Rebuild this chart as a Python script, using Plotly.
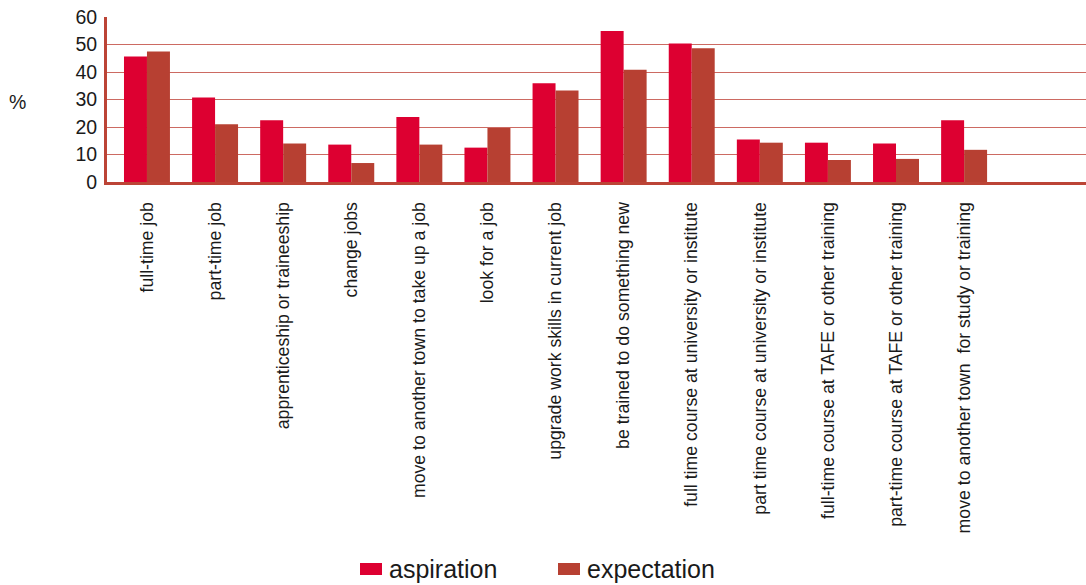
import plotly.graph_objects as go

# Post-school plans: what young people would like to do vs. expect to do (%)
categories = [
    "full-time job",
    "part-time job",
    "apprenticeship or traineeship",
    "change jobs",
    "move to another town to take up a job",
    "look for a job",
    "upgrade work skills in current job",
    "be trained to do something new",
    "full time course at university or institute",
    "part time course at university or institute",
    "full-time course at TAFE or other training",
    "part-time course at TAFE or other training",
    "move to another town \u00a0for study or training",
]
aspiration = [45.6, 30.7, 22.5, 13.6, 23.6, 12.5, 35.9, 54.9, 50.4, 15.5, 14.3, 14.0, 22.5]
expectation = [47.5, 21.0, 14.0, 6.9, 13.6, 19.6, 33.3, 40.8, 48.6, 14.3, 8.0, 8.4, 11.7]
y_ticks = [0, 10, 20, 30, 40, 50, 60]

ASP_COLOR = "#DD0031"
EXP_COLOR = "#B74032"
AXIS_COLOR = "#BC4436"
GRID_COLOR = "#CC6A62"
FONT = "Liberation Sans, Arial, Helvetica, sans-serif"

x_pos = list(range(len(categories)))

fig = go.Figure()
fig.add_trace(go.Bar(x=x_pos, y=aspiration, name="aspiration",
                     marker=dict(color=ASP_COLOR, line=dict(width=0))))
fig.add_trace(go.Bar(x=x_pos, y=expectation, name="expectation",
                     marker=dict(color=EXP_COLOR, line=dict(width=0))))

fig.update_layout(
    width=1086, height=585,
    margin=dict(l=107, r=0, t=17, b=403),
    paper_bgcolor="white", plot_bgcolor="white",
    barmode="group", bargap=0.325, bargroupgap=0,
    showlegend=False,
    font=dict(family=FONT, color="#1a1a1a"),
)

fig.update_xaxes(
    range=[-0.587, 13.79],
    tickmode="array", tickvals=x_pos, ticktext=categories,
    tickangle=-90, tickfont=dict(size=17.7, family=FONT, color="#1a1a1a"),
    ticks="outside", ticklen=10, tickcolor="rgba(0,0,0,0)",
    showline=True, linewidth=3, linecolor=AXIS_COLOR,
    showgrid=False, zeroline=False,
)
fig.update_yaxes(
    range=[0, 60],
    tickmode="array", tickvals=y_ticks,
    tickfont=dict(size=19.5, family=FONT, color="#1a1a1a"),
    ticks="outside", ticklen=3, tickcolor="rgba(0,0,0,0)",
    showline=True, linewidth=3, linecolor=AXIS_COLOR,
    showgrid=True, gridcolor=GRID_COLOR, gridwidth=1,
    zeroline=False,
)

plot_w, plot_h = 979, 165


def px_x(px):
    return (px - 107) / plot_w


def px_y(py):
    return (182 - py) / plot_h


# unit label at the left
fig.add_annotation(text="%", xref="paper", yref="paper",
                   x=px_x(7), y=px_y(102),
                   xanchor="left", yanchor="middle", showarrow=False,
                   font=dict(size=19.5, family=FONT, color="#1a1a1a"))

# legend drawn below the category labels
legend_items = [("aspiration", ASP_COLOR, 360), ("expectation", EXP_COLOR, 558)]
for label, color, left in legend_items:
    fig.add_shape(type="rect", xref="paper", yref="paper",
                  x0=px_x(left), x1=px_x(left + 22),
                  y0=px_y(575), y1=px_y(563),
                  fillcolor=color, line=dict(width=0))
    fig.add_annotation(text=label, xref="paper", yref="paper",
                       x=px_x(left + 27), y=px_y(569),
                       xanchor="left", yanchor="middle", showarrow=False,
                       font=dict(size=25, family=FONT, color="#1a1a1a"))

fig.write_html("out.html")
